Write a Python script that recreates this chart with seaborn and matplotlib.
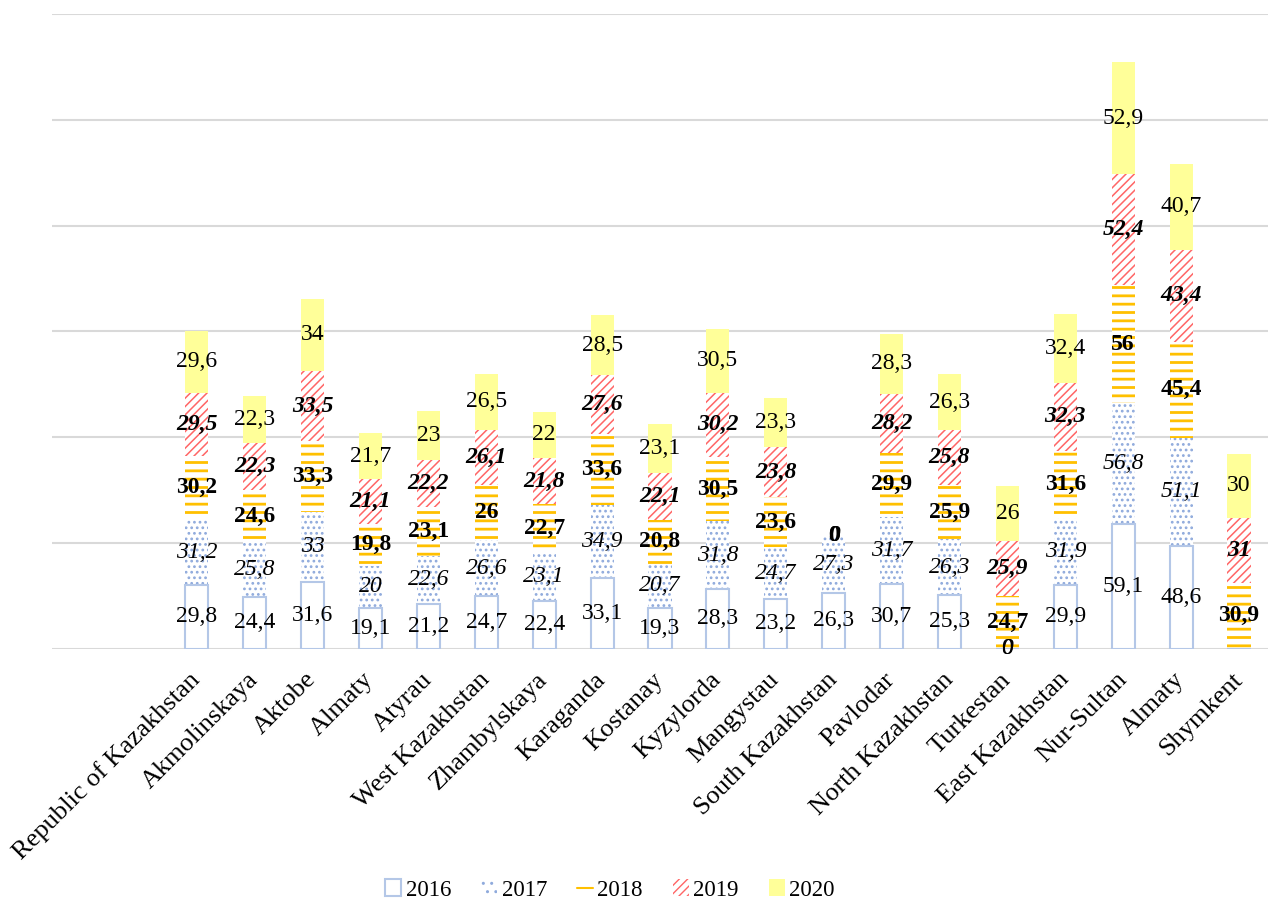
import numpy as np
import pandas as pd
import matplotlib
matplotlib.use("Agg")
import matplotlib.pyplot as plt
from matplotlib.patches import Patch
from matplotlib.lines import Line2D
import seaborn as sns

# categories (Almaty appears twice: region and city)
regions = ["Republic of Kazakhstan", "Akmolinskaya", "Aktobe", "Almaty", "Atyrau",
           "West Kazakhstan", "Zhambylskaya", "Karaganda", "Kostanay", "Kyzylorda",
           "Mangystau", "South Kazakhstan", "Pavlodar", "North Kazakhstan", "Turkestan",
           "East Kazakhstan", "Nur-Sultan", "Almaty", "Shymkent"]
nan = np.nan
v2016 = [29.8, 24.4, 31.6, 19.1, 21.2, 24.7, 22.4, 33.1, 19.3, 28.3, 23.2, 26.3, 30.7, 25.3, 0, 29.9, 59.1, 48.6, nan]
v2017 = [31.2, 25.8, 33, 20, 22.6, 26.6, 23.1, 34.9, 20.7, 31.8, 24.7, 27.3, 31.7, 26.3, 0, 31.9, 56.8, 51.1, nan]
v2018 = [30.2, 24.6, 33.3, 19.8, 23.1, 26, 22.7, 33.6, 20.8, 30.5, 23.6, 0, 29.9, 25.9, 24.7, 31.6, 56, 45.4, 30.9]
v2019 = [29.5, 22.3, 33.5, 21.1, 22.2, 26.1, 21.8, 27.6, 22.1, 30.2, 23.8, 0, 28.2, 25.8, 25.9, 32.3, 52.4, 43.4, 31]
v2020 = [29.6, 22.3, 34, 21.7, 23, 26.5, 22, 28.5, 23.1, 30.5, 23.3, 0, 28.3, 26.3, 26, 32.4, 52.9, 40.7, 30]
years = ["2016", "2017", "2018", "2019", "2020"]

series = [v2016, v2017, v2018, v2019, v2020]
df = pd.DataFrame({y: s for y, s in zip(years, series)})
df["pos"] = range(len(regions))
cum = df[years].fillna(0).cumsum(axis=1)

sns.set_theme(style="white")
plt.rcParams["font.family"] = ["Liberation Serif", "DejaVu Serif"]
plt.rcParams["text.color"] = "black"
plt.rcParams["xtick.color"] = "black"

# style per series
styles = {
    "2016": dict(color="white", edgecolor="#B4C7E7", linewidth=1.5, hatch=None),
    "2017": dict(color="white", edgecolor="#8FAADC", linewidth=0, hatch="..."),
    "2018": dict(color="white", edgecolor="#FFC000", linewidth=0, hatch="--"),
    "2019": dict(color="white", edgecolor="#FF6666", linewidth=0, hatch="////"),
    "2020": dict(color="#FFFF99", edgecolor="#FFFF99", linewidth=0, hatch=None),
}
hatch_lw = {"2016": 1.0, "2017": 1.2, "2018": 2.0, "2019": 1.1, "2020": 1.0}
label_font = {
    "2016": dict(style="normal", weight="normal"),
    "2017": dict(style="italic", weight="normal"),
    "2018": dict(style="normal", weight="bold"),
    "2019": dict(style="italic", weight="bold"),
    "2020": dict(style="normal", weight="normal"),
}

fig = plt.figure(figsize=(12.72, 9.06), dpi=100)
ax = fig.add_axes([52 / 1272, 257.5 / 906, 1216 / 1272, 634.5 / 906])

# draw cumulative layers from top to bottom, each covering the one below
for y in reversed(years):
    plt.rcParams["hatch.linewidth"] = hatch_lw[y]
    st = styles[y]
    sns.barplot(x=df["pos"], y=cum[y], ax=ax, width=0.4, saturation=1,
                color=st["color"], edgecolor=st["edgecolor"],
                linewidth=st["linewidth"], hatch=st["hatch"], zorder=2)

# data labels
for i in range(len(regions)):
    bottom = 0
    for y in years:
        v = df.loc[i, y]
        if pd.isna(v):
            continue
        txt = f"{v:g}".replace(".", ",")
        ax.text(i, bottom + v / 2, txt, ha="center", va="center", color="black",
                fontsize=17, zorder=5, **label_font[y])
        bottom += v

ax.set_xlim(-2.5, 18.5)
ax.set_ylim(0, 300)
ax.set_yticks(np.arange(0, 301, 50))
ax.yaxis.grid(True, color="#D9D9D9", linewidth=1.5)
ax.set_axisbelow(True)
for s in ax.spines.values():
    s.set_visible(False)
ax.tick_params(left=False, bottom=False, labelleft=False, pad=14)
ax.set_xticks(range(len(regions)))
ax.set_xticklabels(regions, rotation=45, ha="right", va="center",
                   rotation_mode="anchor", fontsize=19)
ax.set_xlabel("")
ax.set_ylabel("")

handles = [
    Patch(facecolor="white", edgecolor="#B4C7E7", linewidth=1.5),
    Patch(facecolor="white", edgecolor="#8FAADC", linewidth=0, hatch=".."),
    Line2D([], [], color="#FFC000", linewidth=1.5),
    Patch(facecolor="white", edgecolor="#FF6666", linewidth=0, hatch="////"),
    Patch(facecolor="#FFFF99", edgecolor="#FFFF99", linewidth=0),
]
fig.legend(handles, years, loc="center", bbox_to_anchor=(610 / 1272, 1 - 890 / 906),
           ncol=5, frameon=False, fontsize=16.5, handlelength=0.7, handleheight=0.7,
           handletextpad=0.2, columnspacing=1.3)

fig.savefig("out.png", dpi=100)
